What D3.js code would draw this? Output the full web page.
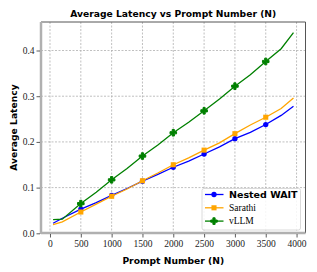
<!DOCTYPE html>
<html><head><meta charset="utf-8">
<script src="https://cdn.jsdelivr.net/npm/d3@7"></script>
<style>body{margin:0;background:#fff}svg{display:block}</style>
</head><body>
<svg id="c" width="317" height="272"></svg>
<script>
const prompts = [50, 200, 500, 750, 1000, 1250, 1500, 1750, 2000, 2250, 2500, 2750, 3000, 3250, 3500, 3750, 3950];
const nestedWait = [0.022, 0.033, 0.053, 0.067, 0.083, 0.098, 0.114, 0.129, 0.1445, 0.158, 0.1735, 0.189, 0.207, 0.221, 0.238, 0.258, 0.278];
const sarathi = [0.019, 0.025, 0.0466, 0.064, 0.081, 0.097, 0.115, 0.132, 0.150, 0.165, 0.182, 0.198, 0.218, 0.237, 0.254, 0.273, 0.296];
const vllm = [0.030, 0.031, 0.065, 0.090, 0.117, 0.142, 0.169, 0.193, 0.220, 0.243, 0.268, 0.294, 0.322, 0.347, 0.376, 0.404, 0.439];
const xTicks = [0, 500, 1000, 1500, 2000, 2500, 3000, 3500, 4000];
const yTicks = [0.0, 0.1, 0.2, 0.3, 0.4];
const markerAt = [500, 1000, 1500, 2000, 2500, 3000, 3500];

const series = [
  {name: "Nested WAIT", values: nestedWait, color: "#0000ff", symbol: d3.symbolCircle, size: 22, bold: true},
  {name: "Sarathi", values: sarathi, color: "#ffa500", symbol: d3.symbolSquare, size: 26, bold: false},
  {name: "vLLM", values: vllm, color: "#008000", symbol: d3.symbolCross, size: 24, bold: false}
];

const svg = d3.select("#c");
const L = 41, R = 305.5, T = 22, B = 233;
const x = d3.scaleLinear().domain([-146, 4145]).range([L, R]);
const y = d3.scaleLinear().domain([0, 0.4624]).range([233.3, T]);

// grid
const g = svg.append("g");
g.selectAll(".gx").data(xTicks).join("line")
  .attr("x1", d => x(d)).attr("x2", d => x(d)).attr("y1", T).attr("y2", B)
  .attr("stroke", "#b0b0b0").attr("stroke-width", 0.8).attr("stroke-dasharray", "2,1.5");
g.selectAll(".gy").data(yTicks).join("line")
  .attr("y1", d => y(d)).attr("y2", d => y(d)).attr("x1", L).attr("x2", R)
  .attr("stroke", "#b0b0b0").attr("stroke-width", 0.8).attr("stroke-dasharray", "2,1.5");

// lines
const line = d3.line().x((d, i) => x(prompts[i])).y(d => y(d));
series.forEach(s => {
  svg.append("path").datum(s.values).attr("d", line)
    .attr("fill", "none").attr("stroke", s.color).attr("stroke-width", 1.3);
  svg.selectAll(null).data(prompts.map((p, i) => [p, s.values[i]]).filter(d => markerAt.includes(d[0])))
    .join("path")
    .attr("d", d3.symbol().type(s.symbol).size(s.size))
    .attr("transform", d => `translate(${x(d[0])},${y(d[1])})`)
    .attr("fill", s.color).attr("stroke", s.color).attr("stroke-width", s.symbol === d3.symbolCross ? 1 : 0).attr("stroke-linejoin", "round");
});

// spines
svg.append("line").attr("x1", L).attr("x2", R).attr("y1", T).attr("y2", T).attr("stroke", "#555").attr("stroke-width", 1);
svg.append("line").attr("x1", R).attr("x2", R).attr("y1", T).attr("y2", B).attr("stroke", "#555").attr("stroke-width", 1);
svg.append("line").attr("x1", L).attr("x2", L).attr("y1", T).attr("y2", B + 1).attr("stroke", "#b0b0b0").attr("stroke-width", 2.5);
svg.append("line").attr("x1", L).attr("x2", R).attr("y1", B).attr("y2", B).attr("stroke", "#b0b0b0").attr("stroke-width", 2.5);

// axes
const tickFont = "'Liberation Serif', 'DejaVu Serif', serif";
const xa = svg.append("g").attr("transform", `translate(0,${B + 1})`)
  .call(d3.axisBottom(x).tickValues(xTicks).tickSize(3.5).tickPadding(3).tickFormat(d3.format("d")));
const ya = svg.append("g").attr("transform", `translate(${L - 1},0)`)
  .call(d3.axisLeft(y).tickValues(yTicks).tickSize(3.5).tickPadding(2).tickFormat(d3.format(".1f")));
[xa, ya].forEach(a => {
  a.select(".domain").remove();
  a.selectAll(".tick line").attr("stroke", "#333").attr("stroke-width", 0.8);
  a.selectAll(".tick text").attr("fill", "#222").style("font-family", tickFont).style("font-size", "9.5px");
});

// titles
const sans = "'DejaVu Sans', sans-serif";
svg.append("text").attr("x", (L + R) / 2).attr("y", 17).attr("text-anchor", "middle")
  .style("font-family", sans).style("font-weight", "bold").style("font-size", "9.2px").text("Average Latency vs Prompt Number (N)");
svg.append("text").attr("x", (L + R) / 2).attr("y", 264).attr("text-anchor", "middle")
  .style("font-family", sans).style("font-weight", "bold").style("font-size", "9.2px").text("Prompt Number (N)");
svg.append("text").attr("transform", `translate(17,${(T + B) / 2}) rotate(-90)`).attr("text-anchor", "middle")
  .style("font-family", sans).style("font-weight", "bold").style("font-size", "9.2px").text("Average Latency");

// legend
const lg = svg.append("g");
lg.append("rect").attr("x", 202).attr("y", 188.5).attr("width", 98.5).attr("height", 41.5).attr("rx", 2)
  .attr("fill", "#fff").attr("fill-opacity", 0.85).attr("stroke", "#d0d0d0").attr("stroke-width", 0.8);
series.forEach((s, i) => {
  const yy = 194.5 + i * 13.3;
  lg.append("line").attr("x1", 205).attr("x2", 223.5).attr("y1", yy).attr("y2", yy).attr("stroke", s.color).attr("stroke-width", 1.3);
  lg.append("path").attr("d", d3.symbol().type(s.symbol).size(s.size)).attr("transform", `translate(214,${yy})`)
    .attr("fill", s.color).attr("stroke", s.color).attr("stroke-width", s.symbol === d3.symbolCross ? 1 : 0).attr("stroke-linejoin", "round");
  lg.append("text").attr("x", 229).attr("y", yy + 3.3).text(s.name)
    .style("font-family", s.bold ? sans : tickFont)
    .style("font-weight", s.bold ? "bold" : "normal")
    .style("font-size", "9.5px");
});
</script>
</body></html>
